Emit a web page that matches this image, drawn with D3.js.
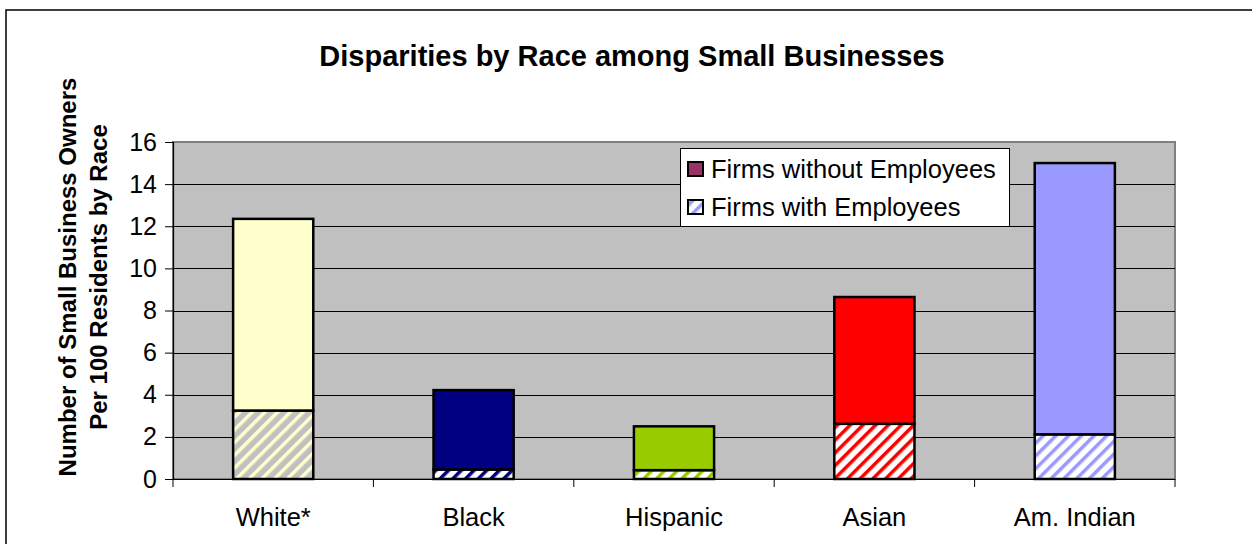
<!DOCTYPE html>
<html>
<head>
<meta charset="utf-8">
<script src="https://cdn.jsdelivr.net/npm/d3@7"></script>
<style>
html,body{margin:0;padding:0;background:#fff;}
svg{display:block;font-family:"Liberation Sans",Arial,sans-serif;}
</style>
</head>
<body>
<svg id="chart" width="1252" height="544"></svg>
<script>
const categories = ["White*", "Black", "Hispanic", "Asian", "Am. Indian"];
const withEmployees = [3.25, 0.45, 0.42, 2.62, 2.12];
const withoutEmployees = [9.1, 3.77, 2.08, 6.02, 12.88];
const barColors = ["#FFFFCC", "#000080", "#99CC00", "#FF0000", "#9999FF"];
const hatchBackgrounds = ["#C0C0C0", "#FFFFFF", "#FFFFFF", "#FFFFFF", "#FFFFFF"];
const yTicks = [0, 2, 4, 6, 8, 10, 12, 14, 16];
const seriesNames = ["Firms without Employees", "Firms with Employees"];
const legendColors = ["#993366", "#9999FF"];

const svg = d3.select("#chart");
const plot = {left: 173, top: 142, right: 1175, bottom: 479};
const FONT = "Liberation Sans, Arial, sans-serif";

// outer border
svg.append("rect").attr("x", 6).attr("y", 10).attr("width", 1260).attr("height", 560)
  .attr("fill", "#fff").attr("stroke", "#000").attr("stroke-width", 1.5);

const x = d3.scaleBand().domain(categories).range([plot.left, plot.right]).paddingInner(0.6).paddingOuter(0.3);
const y = d3.scaleLinear().domain([0, 16]).range([plot.bottom, plot.top]);

// patterns
const defs = svg.append("defs");
function addPattern(id, bg, fg) {
  const p = defs.append("pattern").attr("id", id).attr("patternUnits", "userSpaceOnUse")
    .attr("width", 9).attr("height", 9).attr("patternTransform", "rotate(45)");
  p.append("rect").attr("width", 9).attr("height", 9).attr("fill", bg);
  p.append("rect").attr("x", 0).attr("width", 3.5).attr("height", 9).attr("fill", fg);
}
categories.forEach((c, i) => addPattern("hatch" + i, hatchBackgrounds[i], barColors[i]));
addPattern("hatchLegend", "#FFFFFF", legendColors[1]);

// plot background
svg.append("rect").attr("x", plot.left).attr("y", plot.top)
  .attr("width", plot.right - plot.left).attr("height", plot.bottom - plot.top)
  .attr("fill", "#C0C0C0").attr("stroke", "#808080").attr("stroke-width", 2);

// gridlines
svg.append("g").selectAll("line").data(yTicks.filter(t => t > 0 && t < 16)).join("line")
  .attr("x1", plot.left).attr("x2", plot.right)
  .attr("y1", d => Math.round(y(d)) + 0.5).attr("y2", d => Math.round(y(d)) + 0.5)
  .attr("stroke", "#000").attr("stroke-width", 1);

// bars
const g = svg.append("g");
categories.forEach((c, i) => {
  const x0 = x(c), bw = x.bandwidth();
  g.append("rect").attr("x", x0).attr("width", bw)
    .attr("y", y(withEmployees[i])).attr("height", y(0) - y(withEmployees[i]))
    .attr("fill", `url(#hatch${i})`).attr("stroke", "#000").attr("stroke-width", 2.5);
  const tot = withEmployees[i] + withoutEmployees[i];
  g.append("rect").attr("x", x0).attr("width", bw)
    .attr("y", y(tot)).attr("height", y(withEmployees[i]) - y(tot))
    .attr("fill", barColors[i]).attr("stroke", "#000").attr("stroke-width", 2.5);
});

// y axis
const yAxis = d3.axisLeft(y).tickValues(yTicks).tickSize(8).tickPadding(8).tickFormat(d3.format("d"));
const ya = svg.append("g").attr("transform", `translate(${plot.left},0)`).call(yAxis);
ya.select(".domain").attr("stroke", "#000").attr("stroke-width", 1.2);
ya.selectAll("text").attr("font-size", 25).attr("fill", "#000").attr("font-family", FONT);

// x axis
const xAxis = d3.axisBottom(x).tickSize(0).tickPadding(29);
const xa = svg.append("g").attr("transform", `translate(0,${plot.bottom})`).call(xAxis);
xa.select(".domain").remove();
xa.selectAll("text").attr("font-size", 25.5).attr("fill", "#000").attr("font-family", FONT);
svg.append("line").attr("x1", plot.left).attr("x2", plot.right).attr("y1", plot.bottom + 0.5).attr("y2", plot.bottom + 0.5)
  .attr("stroke", "#000").attr("stroke-width", 1.2);
// category boundary ticks
const bounds = d3.range(categories.length + 1).map(k => plot.left + k * (plot.right - plot.left) / categories.length);
svg.append("g").selectAll("line").data(bounds).join("line")
  .attr("x1", d => d).attr("x2", d => d).attr("y1", plot.bottom).attr("y2", plot.bottom + 8)
  .attr("stroke", "#000").attr("stroke-width", 1);

// title
svg.append("text").attr("x", 632).attr("y", 66).attr("text-anchor", "middle")
  .attr("font-size", 29).attr("font-weight", "bold").attr("font-family", FONT)
  .text("Disparities by Race among Small Businesses");

// y title
const yt = svg.append("text").attr("transform", "translate(0,277) rotate(-90)")
  .attr("text-anchor", "middle").attr("font-size", 24).attr("font-weight", "bold").attr("font-family", FONT);
yt.append("tspan").attr("x", 0).attr("y", 76).text("Number of Small Business Owners");
yt.append("tspan").attr("x", 0).attr("y", 107).text("Per 100 Residents by Race");

// legend
const lg = svg.append("g");
lg.append("rect").attr("x", 680.5).attr("y", 148.5).attr("width", 329).attr("height", 78)
  .attr("fill", "#fff").attr("stroke", "#000").attr("stroke-width", 1);
seriesNames.forEach((s, i) => {
  const yy = 162 + i * 38;
  lg.append("rect").attr("x", 688).attr("y", yy).attr("width", 15).attr("height", 14)
    .attr("fill", i === 0 ? legendColors[0] : "url(#hatchLegend)").attr("stroke", "#000").attr("stroke-width", 2);
  lg.append("text").attr("x", 711).attr("y", yy + 16).attr("font-size", 25.5).attr("font-family", FONT).text(s);
});
</script>
</body>
</html>
